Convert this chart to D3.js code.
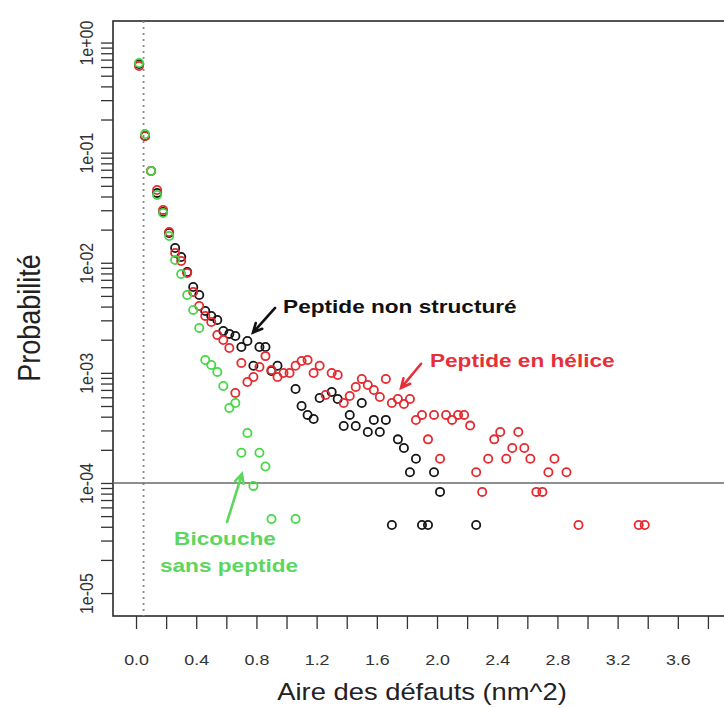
<!DOCTYPE html>
<html><head><meta charset="utf-8">
<script src="https://cdn.jsdelivr.net/npm/d3@7"></script>
<style>
html,body{margin:0;padding:0;background:#fff;}
svg{display:block;}
text{font-family:Arial,"Liberation Sans",Helvetica,sans-serif;}
</style></head>
<body>
<svg id="chart" width="724" height="708"></svg>
<script>
// ---- data ----
const blackX = [0.02,0.06,0.10,0.14,0.18,0.22,0.26,0.30,0.34,0.38,0.42,0.46,0.50,0.54,0.58,0.62,0.66,0.70,0.74,0.78,0.82,0.86,0.90,0.94,1.06,1.10,1.14,1.18,1.22,1.30,1.34,1.38,1.42,1.46,1.50,1.54,1.58,1.62,1.66,1.70,1.74,1.78,1.82,1.86,1.90,1.94,1.98,2.02,2.26];
const blackY = [0.639,0.1418,0.0682,0.0431,0.0289,0.01866,0.01363,0.01129,0.00825,0.00603,0.00510,0.00365,0.00329,0.00302,0.00240,0.00226,0.00216,0.00172,0.00195,0.00116,0.00172,0.00172,0.00104,0.00116,0.000714,0.000500,0.000415,0.000381,0.000592,0.000671,0.000579,0.000329,0.000415,0.000329,0.000533,0.00029,0.000374,0.00029,0.000374,0.0000415,0.000249,0.000208,0.000125,0.000166,0.0000415,0.0000415,0.000125,0.000083,0.0000415];

const redX = [0.02,0.06,0.10,0.14,0.18,0.22,0.26,0.30,0.34,0.38,0.42,0.46,0.50,0.54,0.58,0.62,0.66,0.70,0.74,0.78,0.82,0.86,0.90,0.94,0.98,1.02,1.06,1.10,1.14,1.18,1.22,1.26,1.30,1.34,1.38,1.42,1.46,1.50,1.54,1.58,1.62,1.66,1.70,1.74,1.78,1.82,1.86,1.90,1.94,1.98,2.02,2.06,2.10,2.14,2.18,2.22,2.26,2.30,2.34,2.38,2.42,2.46,2.50,2.54,2.58,2.62,2.66,2.70,2.74,2.78,2.86,2.94,3.34,3.38];
const redY = [0.613,0.1418,0.0682,0.0458,0.0302,0.01905,0.01227,0.01038,0.00808,0.00543,0.00405,0.00329,0.00290,0.00221,0.00199,0.00168,0.000657,0.00123,0.000827,0.000918,0.00113,0.00142,0.00106,0.000918,0.000998,0.000998,0.00116,0.00128,0.00131,0.000998,0.00116,0.000630,0.000998,0.000957,0.000533,0.000617,0.000744,0.000881,0.000777,0.000699,0.000604,0.000881,0.000533,0.000579,0.000522,0.000579,0.000373,0.000415,0.000249,0.000415,0.000166,0.000415,0.000374,0.000415,0.000415,0.000332,0.000125,0.000083,0.000166,0.000249,0.00029,0.000166,0.000208,0.00029,0.000208,0.000166,0.000083,0.000083,0.000125,0.000166,0.000125,0.0000415,0.0000415,0.0000415];

const greenX = [0.02,0.06,0.10,0.14,0.18,0.22,0.26,0.30,0.34,0.38,0.42,0.46,0.50,0.54,0.58,0.62,0.66,0.70,0.74,0.78,0.82,0.86,0.90,1.06];
const greenY = [0.653,0.1478,0.0682,0.0413,0.0283,0.01751,0.01060,0.00791,0.00510,0.00373,0.00256,0.00131,0.00118,0.00102,0.000760,0.000480,0.000533,0.000188,0.000284,0.000094,0.000188,0.000141,0.000047,0.000047];

const xTicks = [0,0.2,0.4,0.6,0.8,1.0,1.2,1.4,1.6,1.8,2.0,2.2,2.4,2.6,2.8,3.0,3.2,3.4,3.6,3.8];
const xLabels = [0,0.4,0.8,1.2,1.6,2.0,2.4,2.8,3.2,3.6];
const yMajor = [1,1e-1,1e-2,1e-3,1e-4,1e-5];
const yMajorLabels = ["1e+00","1e-01","1e-02","1e-03","1e-04","1e-05"];
const refX = 0.05;     // dotted vertical line
const refY = 1e-4;     // horizontal line

const xLabel = "Aire des défauts (nm^2)";
const yLabel = "Probabilité";

// annotations (data coords)
const annBlack = {text:"Peptide non structuré", x:0.977, y:0.0035, ax0:0.924, ay0:0.00389, ax1:0.777, ay1:0.00232};
const annRed   = {text:"Peptide en hélice", x:1.953, y:0.00113, ax0:1.894, ay0:0.00121, ax1:1.761, ay1:0.00073};
const annGreen = {lines:["Bicouche","sans peptide"], x:[0.591,0.618], y:[2.73e-5,1.556e-5], ax0:0.605, ay0:4.43e-5, ax1:0.704, ay1:1.21e-4};

// ---- styles ----
const COL_BLACK = "#161616", COL_RED = "#e52a2f", COL_GREEN = "#45d845";
const TXT_RED = "#e5303a", TXT_GREEN = "#5cd65c";
const SX = 1.19; // horizontal text stretch of original

const svg = d3.select("#chart");
const L=113, T=21, B=616, R=760;
const x = d3.scaleLinear().domain([-0.153, 4.146]).range([L, R]);
const y = d3.scaleLog().domain([1.57, 6.19e-6]).range([T, B]);

// frame
svg.append("rect").attr("x",L).attr("y",T).attr("width",R-L).attr("height",B-T)
  .attr("fill","none").attr("stroke","#2a2a2a").attr("stroke-width",1.6);

// y axis ticks (major + minor)
const yTickVals = [];
for (let e=0; e>=-5; e--) for (let m=1; m<=9; m++) { const v=m*Math.pow(10,e); if (v<=1.57 && v>=1e-5) yTickVals.push(v); }
const yAxis = d3.axisLeft(y).tickValues(yTickVals).tickSize(12).tickFormat(d=>{
  const i = yMajor.findIndex(m=>Math.abs(Math.log10(m)-Math.log10(d))<1e-6); return i>=0?yMajorLabels[i]:"";});
const gy = svg.append("g").attr("transform",`translate(${L},0)`).call(yAxis);
gy.select(".domain").remove();
gy.selectAll(".tick line").attr("stroke","#333").attr("stroke-width",1.3);
gy.selectAll(".tick text").attr("x",null).attr("dy",null).attr("text-anchor","middle")
  .attr("transform",`translate(-20,0) scale(${SX},1) rotate(-90)`)
  .attr("font-size",16).attr("fill","#333");

// x axis
const xAxis = d3.axisBottom(x).tickValues(xTicks).tickSize(13).tickFormat(d=>{
  return xLabels.some(v=>Math.abs(v-d)<1e-9)? d.toFixed(1) : "";});
const gx = svg.append("g").attr("transform",`translate(0,${B})`).call(xAxis);
gx.select(".domain").remove();
gx.selectAll(".tick line").attr("stroke","#333").attr("stroke-width",1.3);
gx.selectAll(".tick text").attr("y",null).attr("dy",null)
  .attr("transform",`translate(0,49) scale(${SX},1)`).attr("font-size",15).attr("fill","#333");

// reference lines
svg.append("line").attr("x1",x(refX)).attr("x2",x(refX)).attr("y1",T).attr("y2",B)
  .attr("stroke","#8a8a8a").attr("stroke-width",1.8).attr("stroke-dasharray","2,4");
svg.append("line").attr("x1",L).attr("x2",R).attr("y1",y(refY)).attr("y2",y(refY))
  .attr("stroke","#6a6a6a").attr("stroke-width",1.5);

// points
function pts(xs, ys, col){
  svg.append("g").selectAll("circle").data(xs.map((d,i)=>[d,ys[i]])).join("circle")
    .attr("cx",d=>x(d[0])).attr("cy",d=>y(d[1])).attr("r",4.1)
    .attr("fill","none").attr("stroke",col).attr("stroke-width",1.8);
}
pts(blackX, blackY, COL_BLACK);
pts(redX, redY, COL_RED);
pts(greenX, greenY, COL_GREEN);

// axis titles
svg.append("text").attr("transform",`translate(422,700) scale(${SX},1)`).attr("text-anchor","middle")
  .attr("font-size",23).attr("fill","#222").text(xLabel);
svg.append("text").attr("transform",`translate(40,318) scale(${SX},1) rotate(-90)`).attr("text-anchor","middle")
  .attr("font-size",27).attr("fill","#222").text(yLabel);

// annotations
function arrow(x0,y0,x1,y1,col){
  const X0=x(x0),Y0=y(y0),X1=x(x1),Y1=y(y1);
  const a=Math.atan2(Y1-Y0,X1-X0), h=10, sp=0.45;
  svg.append("path").attr("d",`M${X0},${Y0}L${X1},${Y1}M${X1-h*Math.cos(a-sp)},${Y1-h*Math.sin(a-sp)}L${X1},${Y1}L${X1-h*Math.cos(a+sp)},${Y1-h*Math.sin(a+sp)}`)
    .attr("fill","none").attr("stroke",col).attr("stroke-width",2.6).attr("stroke-linecap","round");
}
svg.append("text").attr("transform",`translate(${x(annBlack.x)},${y(annBlack.y)}) scale(${SX},1)`)
  .attr("font-size",19).attr("font-weight","bold").attr("fill","#111").text(annBlack.text);
arrow(annBlack.ax0,annBlack.ay0,annBlack.ax1,annBlack.ay1,"#111");
svg.append("text").attr("transform",`translate(${x(annRed.x)},${y(annRed.y)}) scale(${SX},1)`)
  .attr("font-size",19).attr("font-weight","bold").attr("fill",TXT_RED).text(annRed.text);
arrow(annRed.ax0,annRed.ay0,annRed.ax1,annRed.ay1,TXT_RED);
annGreen.lines.forEach((t,i)=>{
  svg.append("text").attr("transform",`translate(${x(annGreen.x[i])},${y(annGreen.y[i])}) scale(${SX},1)`)
    .attr("text-anchor","middle").attr("font-size",19).attr("font-weight","bold").attr("fill",TXT_GREEN).text(t);
});
arrow(annGreen.ax0,annGreen.ay0,annGreen.ax1,annGreen.ay1,TXT_GREEN);
</script>
</body></html>
